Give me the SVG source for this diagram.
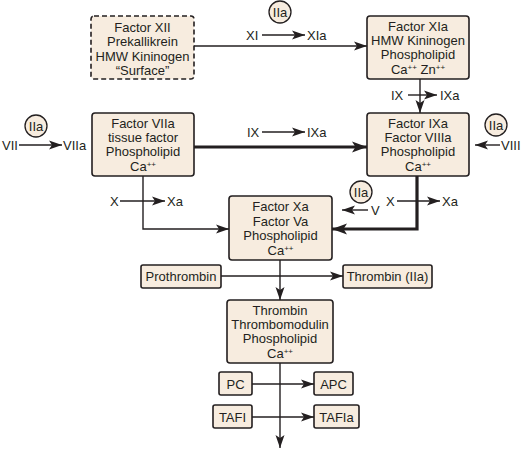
<svg xmlns="http://www.w3.org/2000/svg" width="523" height="453" viewBox="0 0 523 453">
<defs>
<style>
.box{fill:#f7ecdf;stroke:#231f20;stroke-width:1.6}
.dash{stroke-dasharray:5,3}
.t{font-family:"Liberation Sans",Arial,sans-serif;font-size:13px;fill:#231f20;text-anchor:middle}
.l{font-family:"Liberation Sans",Arial,sans-serif;font-size:13px;fill:#231f20}
.sup{font-size:8px}
.c{fill:none;stroke:#231f20;stroke-width:1.4}
.thick{stroke-width:3.2}
.circ{fill:#f7ecdf;stroke:#231f20;stroke-width:1.3}
</style>
<marker id="ah" markerUnits="userSpaceOnUse" markerWidth="14" markerHeight="10" refX="13" refY="5" orient="auto" viewBox="0 0 14 10">
<path d="M0,0.5 L13,5 L0,9.5 L3,5 z" fill="#231f20"/>
</marker>
<marker id="ahb" markerUnits="userSpaceOnUse" markerWidth="16" markerHeight="12" refX="15" refY="6" orient="auto" viewBox="0 0 16 12">
<path d="M0,0.5 L15,6 L0,11.5 L3.5,6 z" fill="#231f20"/>
</marker>
</defs>
<rect width="523" height="453" fill="#ffffff"/>

<g id="connectors">
<line class="c" x1="194" y1="46" x2="367" y2="46" marker-end="url(#ah)"/>
<line class="c" x1="262" y1="35" x2="305" y2="35" marker-end="url(#ah)"/>
<line class="c" x1="420" y1="79" x2="420" y2="113" marker-end="url(#ah)"/>
<line class="c" x1="408" y1="95" x2="437" y2="95" marker-end="url(#ah)"/>
<line class="c" x1="19" y1="145" x2="62" y2="145" marker-end="url(#ah)"/>
<line class="c thick" x1="194" y1="147" x2="367" y2="147" marker-end="url(#ahb)"/>
<line class="c" x1="262" y1="132" x2="305" y2="132" marker-end="url(#ah)"/>
<line class="c" x1="500" y1="145" x2="475" y2="145" marker-end="url(#ah)"/>
<polyline class="c" points="143,176 143,229 229,229" marker-end="url(#ah)"/>
<line class="c" x1="120" y1="201" x2="165" y2="201" marker-end="url(#ah)"/>
<polyline class="c thick" points="417,176 417,229 332,229" marker-end="url(#ahb)"/>
<line class="c" x1="397" y1="201" x2="440" y2="201" marker-end="url(#ah)"/>
<line class="c" x1="368" y1="210" x2="342" y2="210" marker-end="url(#ah)"/>
<line class="c" x1="280" y1="260" x2="280" y2="300" marker-end="url(#ah)"/>
<line class="c" x1="221" y1="276" x2="343" y2="276" marker-end="url(#ah)"/>
<line class="c" x1="280" y1="363" x2="280" y2="448" marker-end="url(#ah)"/>
<line class="c" x1="252" y1="384" x2="314" y2="384" marker-end="url(#ah)"/>
<line class="c" x1="252" y1="417" x2="314" y2="417" marker-end="url(#ah)"/>
</g>

<g id="labels">
<text class="l" x="246" y="39.5">XI</text>
<text class="l" x="307" y="39.5">XIa</text>
<text class="l" x="391" y="99.5">IX</text>
<text class="l" x="440" y="99.5">IXa</text>
<text class="l" x="2" y="149.5">VII</text>
<text class="l" x="63" y="149.5">VIIa</text>
<text class="l" x="247" y="136.5">IX</text>
<text class="l" x="307" y="136.5">IXa</text>
<text class="l" x="501" y="149.5">VIII</text>
<text class="l" x="110" y="205.5">X</text>
<text class="l" x="167" y="205.5">Xa</text>
<text class="l" x="386" y="205.5">X</text>
<text class="l" x="442" y="205.5">Xa</text>
<text class="l" x="371" y="214.5">V</text>
</g>

<g id="iia-top"><circle class="circ" cx="280" cy="12" r="11"/><text class="t" x="280" y="16.5">IIa</text></g>
<g id="iia-vii"><circle class="circ" cx="36" cy="126" r="11"/><text class="t" x="36" y="130.5">IIa</text></g>
<g id="iia-viii"><circle class="circ" cx="496" cy="125" r="11"/><text class="t" x="496" y="129.5">IIa</text></g>
<g id="iia-v"><circle class="circ" cx="361" cy="192" r="11"/><text class="t" x="361" y="196.5">IIa</text></g>

<g id="contact">
<rect class="box dash" x="91" y="16" width="103" height="63" rx="3"/>
<text class="t" x="142.5" y="31.5">Factor XII</text>
<text class="t" x="142.5" y="46">Prekallikrein</text>
<text class="t" x="142.5" y="60.5">HMW Kininogen</text>
<text class="t" x="142.5" y="75">“Surface”</text>
</g>

<g id="xia">
<rect class="box" x="367" y="16" width="102" height="63" rx="3"/>
<text class="t" x="418" y="30.5">Factor XIa</text>
<text class="t" x="418" y="44.5">HMW Kininogen</text>
<text class="t" x="418" y="58.5">Phospholipid</text>
<text class="t" x="418" y="73.5">Ca<tspan class="sup" dy="-4">++</tspan><tspan dy="4"> Zn</tspan><tspan class="sup" dy="-4">++</tspan></text>
</g>

<g id="viia">
<rect class="box" x="92" y="113" width="102" height="63" rx="3"/>
<text class="t" x="143" y="128">Factor VIIa</text>
<text class="t" x="143" y="142">tissue factor</text>
<text class="t" x="143" y="156">Phospholipid</text>
<text class="t" x="143" y="171">Ca<tspan class="sup" dy="-4">++</tspan></text>
</g>

<g id="ixa">
<rect class="box" x="367" y="113" width="102" height="63" rx="3"/>
<text class="t" x="418" y="128">Factor IXa</text>
<text class="t" x="418" y="142">Factor VIIIa</text>
<text class="t" x="418" y="156">Phospholipid</text>
<text class="t" x="418" y="171">Ca<tspan class="sup" dy="-4">++</tspan></text>
</g>

<g id="xa">
<rect class="box" x="229" y="196" width="103" height="64" rx="3"/>
<text class="t" x="280.5" y="211">Factor Xa</text>
<text class="t" x="280.5" y="225.5">Factor Va</text>
<text class="t" x="280.5" y="240">Phospholipid</text>
<text class="t" x="280.5" y="255">Ca<tspan class="sup" dy="-4">++</tspan></text>
</g>

<g id="prothrombin">
<rect class="box" x="141" y="265" width="80" height="23" rx="2"/>
<text class="t" x="181" y="281">Prothrombin</text>
</g>

<g id="thrombin-iia">
<rect class="box" x="343" y="265" width="89" height="23" rx="2"/>
<text class="t" x="387.5" y="281">Thrombin (IIa)</text>
</g>

<g id="thrombin">
<rect class="box" x="227" y="300" width="106" height="63" rx="3"/>
<text class="t" x="280" y="315">Thrombin</text>
<text class="t" x="280" y="329">Thrombomodulin</text>
<text class="t" x="280" y="343">Phospholipid</text>
<text class="t" x="280" y="358">Ca<tspan class="sup" dy="-4">++</tspan></text>
</g>

<g id="pc">
<rect class="box" x="219" y="372" width="33" height="23" rx="2"/>
<text class="t" x="235.5" y="388.5">PC</text>
</g>
<g id="apc">
<rect class="box" x="314" y="372" width="39" height="23" rx="2"/>
<text class="t" x="333.5" y="388.5">APC</text>
</g>
<g id="tafi">
<rect class="box" x="213" y="405" width="39" height="23" rx="2"/>
<text class="t" x="232.5" y="421.5">TAFI</text>
</g>
<g id="tafia">
<rect class="box" x="314" y="405" width="45" height="23" rx="2"/>
<text class="t" x="336.5" y="421.5">TAFIa</text>
</g>
</svg>
